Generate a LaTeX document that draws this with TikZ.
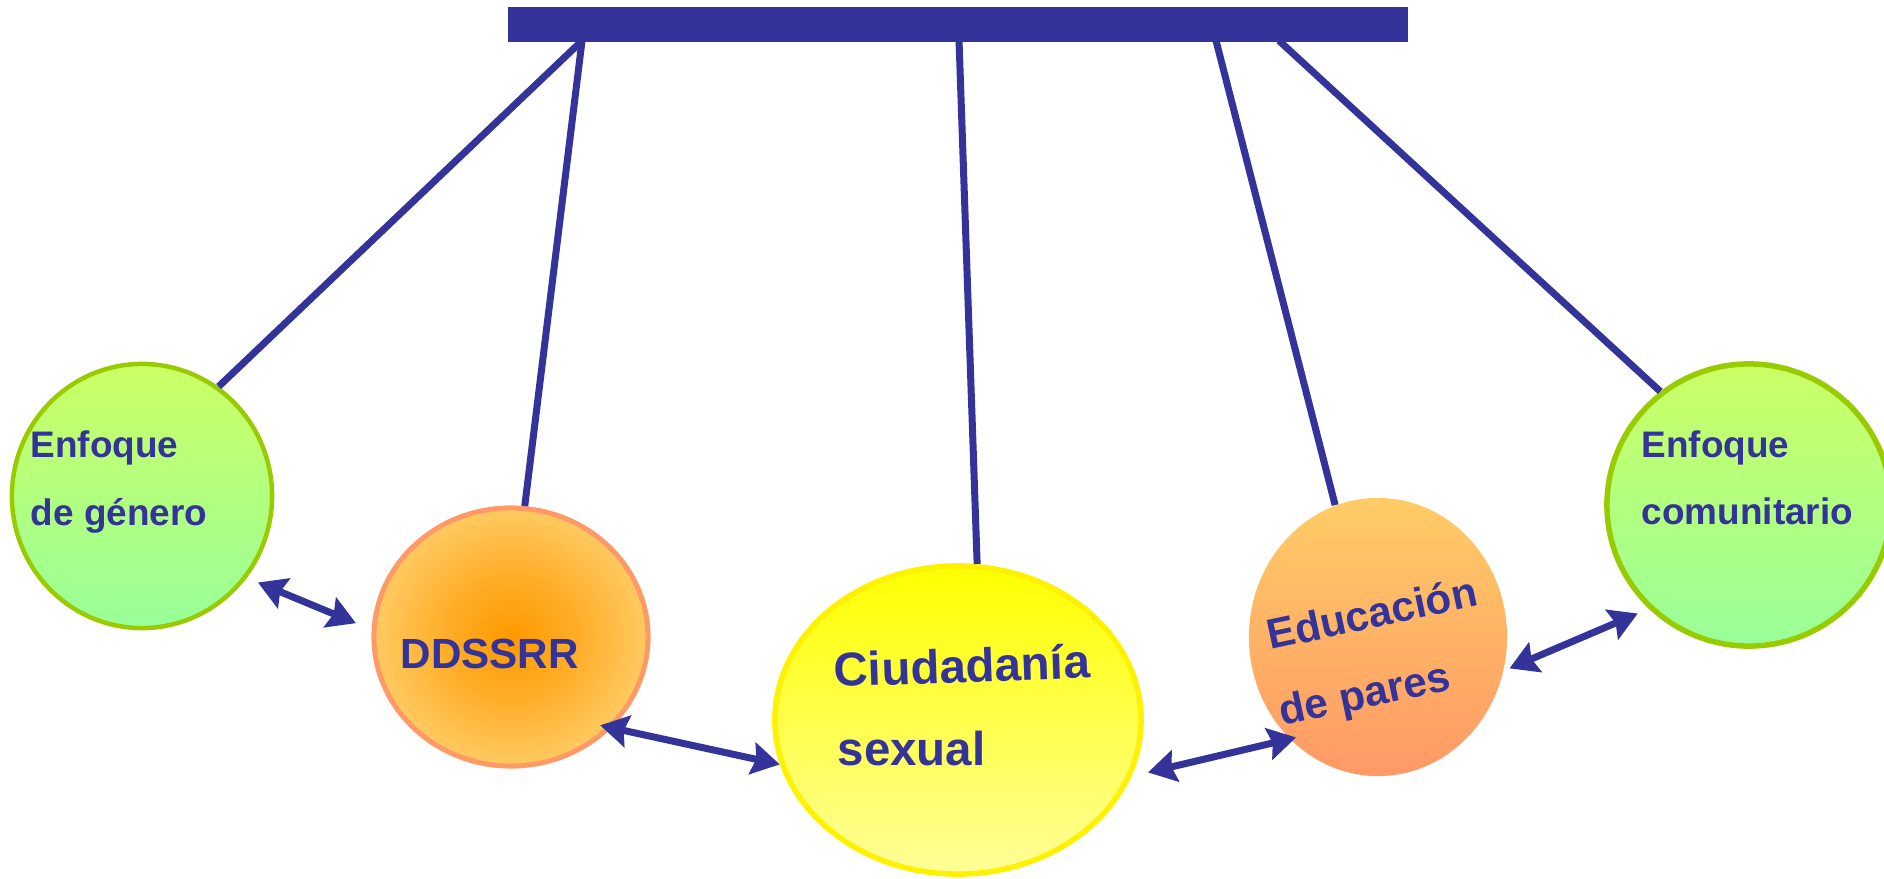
\documentclass[tikz,border=0pt]{standalone}
\usepackage{fontspec}
\setmainfont{Liberation Sans}
\usetikzlibrary{shapes.geometric, arrows.meta, calc}

\definecolor{navy}{HTML}{333399}
\definecolor{limetop}{HTML}{CCFF66}
\definecolor{limebot}{HTML}{99FF99}
\definecolor{limeline}{HTML}{99CC00}
\definecolor{peach}{HTML}{FFCC66}
\definecolor{salmon}{HTML}{FF9966}
\definecolor{deeporange}{HTML}{FF9900}
\definecolor{paleyellow}{HTML}{FFFF99}

\pgfdeclareradialshading{ddsglow}{\pgfpoint{0bp}{0bp}}{color(0bp)=(deeporange); color(12bp)=(peach!40!deeporange); color(26bp)=(peach); color(50bp)=(peach)}

\begin{document}
\begin{tikzpicture}[x=0.01cm, y=-0.01cm,
    bubble/.style={ellipse, inner sep=0pt},
    stem/.style={draw=navy, line width=0.07cm},
    link/.style={draw=navy, line width=0.07cm, <->, >={Stealth[length=0.28cm, width=0.32cm, inset=0.04cm]}},
    lbl/.style={anchor=base west, inner sep=0pt, text=navy, font=\bfseries\fontsize{10.5}{13}\selectfont}]
		\clip (0,0) rectangle (1884,879);

		% top bar
		\node[fill=navy, minimum width=9cm, minimum height=0.35cm, inner sep=0pt] (bar) at (958,24.5) {};
		\coordinate (top1) at ($(bar.south west)+(75,-2)$);
		\coordinate (top2) at ($(bar.south west)+(452,-2)$);
		\coordinate (top3) at ($(bar.south west)+(709,-2)$);
		\coordinate (top4) at ($(bar.south west)+(772,-2)$);

		% bubbles
		\node[bubble, minimum width=2.60cm, minimum height=2.64cm, top color=limetop, bottom color=limebot, draw=limeline, line width=0.045cm] (genero) at (142,496) {};
		\node[bubble, minimum width=2.74cm, minimum height=2.58cm, shading=ddsglow, draw=salmon, line width=0.05cm] (ddssrr) at (511,637) {};
		\node[bubble, minimum width=3.66cm, minimum height=3.08cm, top color=yellow, bottom color=paleyellow, draw=yellow, line width=0.055cm] (ciud) at (958,720) {};
		\node[bubble, minimum width=2.58cm, minimum height=2.78cm, top color=peach, bottom color=salmon] (edu) at (1378,637) {};
		\node[bubble, minimum width=2.84cm, minimum height=2.82cm, top color=limetop, bottom color=limebot, draw=limeline, line width=0.055cm] (comu) at (1749,505) {};

		% hanging lines
		\draw[stem] (top1) -- (genero.55);
		\draw[stem] (top1) -- (ddssrr.84);
		\draw[stem] (top2) -- (ciud.83);
		\draw[stem] (top3) -- (edu.108);
		\draw[stem] (top4) -- (comu.128);

		% links between bubbles
		\draw[link, shorten <=0.12cm, shorten >=0.17cm] (genero.-38) -- (ddssrr.177);
		\draw[link, shorten <=-0.12cm] (ddssrr.-42) -- (ciud.194);
		\draw[link, shorten <=0.17cm, shorten >=-0.07cm] (ciud.-18) -- (edu.229);
		\draw[link, shorten <=0.06cm, shorten >=0.12cm] (edu.-15) -- (comu.226);

		% labels
		\node[lbl] (genero1) at (30,458) {Enfoque};
		\node[lbl] (genero2) at (30,525) {de género};
		\node[lbl, font=\bfseries\fontsize{12}{14}\selectfont] (ddssrrtxt) at (400,668) {DDSSRR};
		\node[lbl, font=\bfseries\fontsize{13.5}{16}\selectfont, rotate=2] (ciud1) at (834,687) {Ciudadanía};
		\node[lbl, font=\bfseries\fontsize{13.5}{16}\selectfont] (ciud2) at (837,765) {sexual};
		\node[lbl, font=\bfseries\fontsize{12}{14}\selectfont, rotate=12] (edu1) at (1270,650) {Educación};
		\node[lbl, font=\bfseries\fontsize{12}{14}\selectfont, rotate=12] (edu2) at (1282,726) {de pares};
		\node[lbl] (comu1) at (1641,458) {Enfoque};
		\node[lbl] (comu2) at (1641,524) {comunitario};
\end{tikzpicture}
\end{document}
